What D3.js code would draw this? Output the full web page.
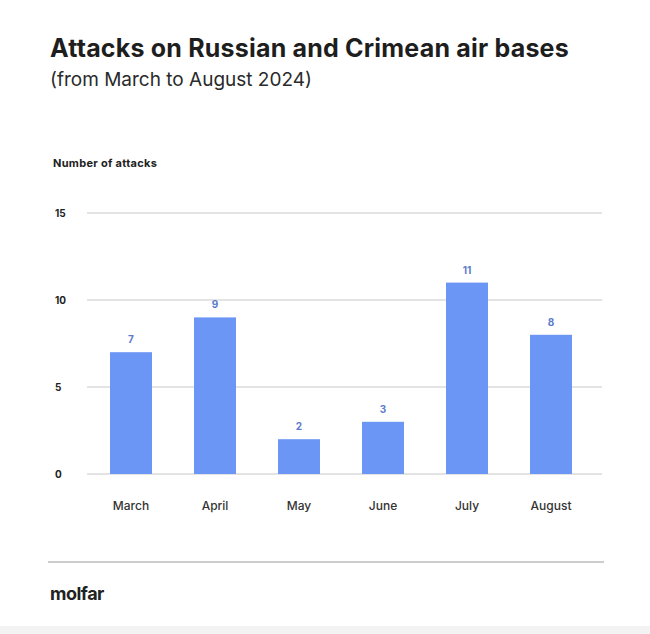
<!DOCTYPE html>
<html>
<head>
<meta charset="utf-8">
<script src="https://cdn.jsdelivr.net/npm/d3@7"></script>
<style>
  body { margin: 0; background: #fff; }
  text { font-family: Inter, "Noto Sans", sans-serif; }
</style>
</head>
<body>
<div class="graph"></div>
<script>
var months = ["March", "April", "May", "June", "July", "August"];
var attacks = [7, 9, 2, 3, 11, 8];
var yTicks = [0, 5, 10, 15];

var width = 650;
var height = 634;

var svg = d3.select(".graph").append("svg")
  .attr("width", width)
  .attr("height", height);

svg.append("rect")
  .attr("x", 0).attr("y", 626)
  .attr("width", width).attr("height", 8)
  .attr("fill", "#f3f3f3");

svg.append("text")
  .attr("x", 50).attr("y", 57)
  .attr("font-size", 25).attr("font-weight", 700)
  .attr("letter-spacing", 0.2)
  .attr("fill", "#1e1e1e")
  .text("Attacks on Russian and Crimean air bases");

svg.append("text")
  .attr("x", 50).attr("y", 86)
  .attr("font-size", 19)
  .attr("fill", "#2a2a2a")
  .text("(from March to August 2024)");

svg.append("text")
  .attr("x", 53).attr("y", 167)
  .attr("font-size", 11).attr("font-weight", 700)
  .attr("letter-spacing", 0.3)
  .attr("fill", "#222")
  .text("Number of attacks");

var x = d3.scaleBand()
  .domain(months)
  .range([89, 593])
  .paddingInner(0.5)
  .paddingOuter(0.25);

var y = d3.scaleLinear()
  .domain([0, 15])
  .range([474, 213]);

// grid lines
var grid = svg.append("g");
grid.selectAll("line")
  .data(yTicks)
  .enter().append("line")
  .attr("x1", 87).attr("x2", 602)
  .attr("y1", d => y(d)).attr("y2", d => y(d))
  .attr("stroke", "#c8c8c8")
  .attr("stroke-width", 1);

grid.selectAll("text")
  .data(yTicks)
  .enter().append("text")
  .attr("x", 55)
  .attr("y", d => y(d) + 4)
  .attr("font-size", 10).attr("font-weight", 700)
  .attr("fill", "#222")
  .text(d => d);

// bars
svg.append("g").selectAll("rect")
  .data(attacks)
  .enter().append("rect")
  .attr("x", (d, i) => x(months[i]))
  .attr("width", x.bandwidth())
  .attr("y", d => y(d))
  .attr("height", d => y(0) - y(d))
  .attr("fill", "#6b96f5");

svg.append("g").selectAll("text")
  .data(attacks)
  .enter().append("text")
  .attr("x", (d, i) => x(months[i]) + x.bandwidth() / 2)
  .attr("y", d => y(d) - 9)
  .attr("text-anchor", "middle")
  .attr("font-size", 10).attr("font-weight", 700)
  .attr("fill", "#5b7bcc")
  .text(d => d);

// month labels
var xAxis = d3.axisBottom(x).tickSize(0).tickPadding(0);
var xg = svg.append("g")
  .attr("transform", "translate(0,501)")
  .call(xAxis);
xg.select(".domain").remove();
xg.selectAll("text")
  .attr("font-family", "Inter, 'Noto Sans', sans-serif")
  .attr("font-size", 12)
  .attr("font-weight", 500)
  .attr("fill", "#333");

// footer
svg.append("line")
  .attr("x1", 48).attr("x2", 604)
  .attr("y1", 562).attr("y2", 562)
  .attr("stroke", "#bdbdbd")
  .attr("stroke-width", 1.5);

svg.append("text")
  .attr("x", 50).attr("y", 600)
  .attr("font-size", 18).attr("font-weight", 700)
  .attr("fill", "#222")
  .attr("letter-spacing", -0.5)
  .text("molfar");
</script>
</body>
</html>
